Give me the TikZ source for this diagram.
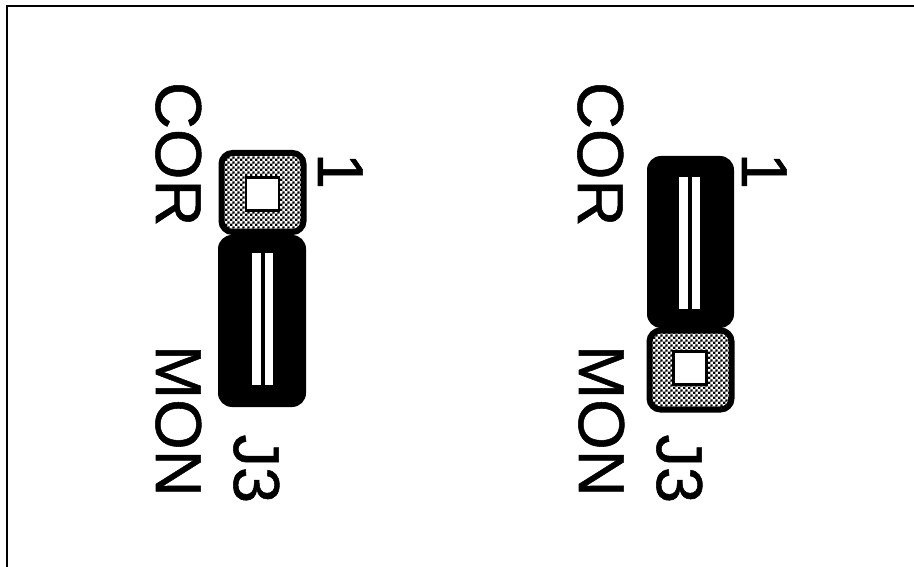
\documentclass[tikz,border=0pt]{standalone}
\usepackage{fontspec}
\setmainfont{Liberation Sans}
\newfontfamily\labfont[FakeBold=0.8]{Liberation Sans}
\usetikzlibrary{patterns}
\pgfdeclarepatternformonly{stip}{\pgfqpoint{0pt}{0pt}}{\pgfqpoint{4.8pt}{4.8pt}}{\pgfqpoint{4.8pt}{4.8pt}}{%
  \pgfpathrectangle{\pgfqpoint{0pt}{0pt}}{\pgfqpoint{2.45pt}{2.45pt}}%
  \pgfpathrectangle{\pgfqpoint{2.4pt}{2.4pt}}{\pgfqpoint{2.45pt}{2.45pt}}%
  \pgfusepath{fill}}
\tikzset{
  lab/.style={rotate=-90,anchor=base west,inner sep=0pt,outer sep=0pt,font=\labfont\fontsize{65}{65}\selectfont},
  jumper/.style={rectangle,draw=none,fill=black,rounded corners=14pt,inner sep=0pt},
  pad/.style={rectangle,draw=black,line width=6pt,pattern=stip,pattern color=black,rounded corners=11pt,inner sep=0pt,minimum width=82pt,minimum height=79pt},
  hole/.style={rectangle,draw=black,line width=2.5pt,fill=white,inner sep=0pt,minimum width=33pt,minimum height=33pt},
  slot/.style={rectangle,fill=white,inner sep=0pt,minimum width=8.5pt},
  frameline/.style={line width=2pt,draw=black}
}
\begin{document}
\begin{tikzpicture}[x=1pt,y=-1pt]
\useasboundingbox (0,0) rectangle (914,567);
\coordinate (fa) at (6.5,567);
\coordinate (fb) at (6.5,6.5);
\coordinate (fc) at (914,6.5);
\draw[frameline] (fa) -- (fb) -- (fc);
% left group
\node[jumper,minimum width=88pt,minimum height=172pt] (bl) at (262,321) {};
\node[slot,minimum height=132pt] (sl1) at (256.5,319) {};
\node[slot,minimum height=132pt] (sl2) at (269,319) {};
\node[pad] (pl) at (262.5,192.5) {};
\node[hole] (hl) at (262.5,194) {};
\node[lab] (corl) at (156,82) {COR};
\node[lab] (monl) at (156,345) {MON};
\node[lab] (onel) at (318,153) {1};
\node[lab] (jl) at (234,434.5) {J3};
% right group
\node[jumper,minimum width=87pt,minimum height=172pt] (br) at (690.5,242) {};
\node[slot,minimum height=132pt] (sr1) at (683.5,243) {};
\node[slot,minimum height=132pt] (sr2) at (696,243) {};
\node[pad] (pr) at (690.5,370) {};
\node[hole] (hr) at (690,368) {};
\node[lab] (corr) at (578,82) {COR};
\node[lab] (monr) at (579,345) {MON};
\node[lab] (oner) at (742,153) {1};
\node[lab] (jr) at (657,434.5) {J3};
\end{tikzpicture}
\end{document}
